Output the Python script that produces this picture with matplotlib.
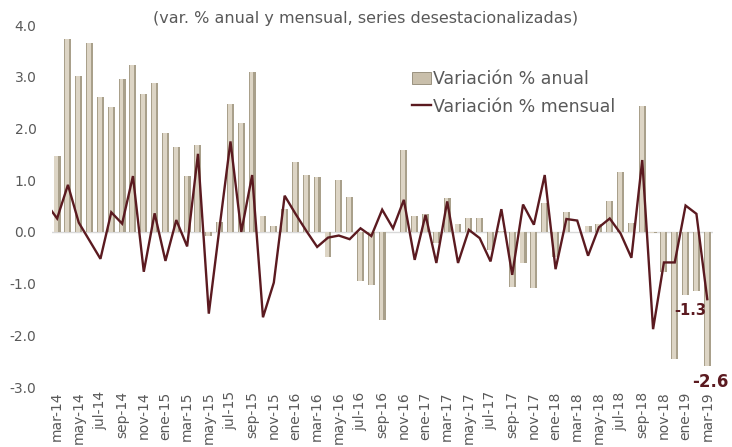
import numpy as np
import matplotlib
matplotlib.use("Agg")
import matplotlib.pyplot as plt
from matplotlib.patches import Patch
from matplotlib.lines import Line2D

# month labels, mar-14 .. mar-19
meses = ["ene", "feb", "mar", "abr", "may", "jun", "jul", "ago", "sep", "oct", "nov", "dic"]
months = []
for k in range(61):
    m = (2 + k) % 12
    y = 14 + (2 + k) // 12
    months.append(f"{meses[m]}-{y}")

# annual % change (bars)
anual = [1.46, 3.73, 3.01, 3.65, 2.60, 2.41, 2.95, 3.22, 2.66, 2.88,
         1.92, 1.64, 1.09, 1.68, -0.07, 0.20, 2.48, 2.10, 3.10, 0.30,
         0.12, 0.45, 1.35, 1.10, 1.07, -0.48, 1.00, 0.68, -0.94, -1.03,
         -1.70, 0.0, 1.59, 0.31, 0.34, -0.22, 0.65, 0.15, 0.26, 0.26,
         -0.35, 0.02, -1.06, -0.60, -1.08, 0.55, -0.48, 0.38, 0.0, 0.12,
         0.15, 0.59, 1.15, 0.17, 2.43, -0.03, -0.78, -2.45, -1.22, -1.15,
         -2.6]

# monthly % change (line); first value is feb-14, cut by the axis edge
mensual = [0.55,
           0.26, 0.91, 0.18, -0.17, -0.52, 0.38, 0.16, 1.08, -0.77, 0.36,
           -0.56, 0.23, -0.28, 1.51, -1.58, 0.10, 1.75, 0.0, 1.10, -1.65,
           -0.98, 0.70, 0.35, 0.02, -0.29, -0.11, -0.07, -0.14, 0.07, -0.08,
           0.43, 0.07, 0.62, -0.54, 0.33, -0.60, 0.59, -0.60, 0.04, -0.12,
           -0.57, 0.44, -0.83, 0.53, 0.14, 1.10, -0.72, 0.25, 0.22, -0.46,
           0.09, 0.26, -0.03, -0.50, 1.39, -1.88, -0.59, -0.59, 0.51, 0.35,
           -1.3]

gray = "#595959"
maroon = "#5b1a20"

fig = plt.figure(figsize=(7.32, 4.47), dpi=100)
ax = fig.add_axes([0.0706, 0.134, 0.903, 0.81])

x = np.arange(len(anual))
xl = np.arange(-1, len(anual))

# cylinder-ish bars: dark body + light highlight
ax.bar(x, anual, width=0.64, color="#a9a08b", zorder=2)
ax.bar(x - 0.06, anual, width=0.36, color="#ddd5c5", zorder=2)
ax.plot(xl, mensual, color=maroon, lw=1.7, zorder=3, solid_joinstyle="miter")

ax.axhline(0, color="#d9d9d9", lw=1, zorder=1)

ax.set_xlim(-0.5, len(anual) - 0.5)
ax.set_ylim(-3, 4)
ax.set_yticks(np.arange(-3, 5, 1))
ax.set_yticklabels([f"{v:.1f}" for v in np.arange(-3, 5, 1)])
ax.set_xticks(x[::2])
ax.set_xticklabels(months[::2], rotation=90)
ax.tick_params(axis="both", length=0, colors=gray, labelsize=10)
ax.tick_params(axis="y", pad=11)
ax.tick_params(axis="x", pad=3)
for s in ax.spines.values():
    s.set_visible(False)

fig.text(0.5, 0.958, "(var. % anual y mensual, series desestacionalizadas)",
         ha="center", va="center", color=gray, fontsize=11.5)

handles = [Patch(facecolor="#c9bfab", edgecolor="#8f8672", lw=0.6),
           Line2D([0], [0], color=maroon, lw=1.7)]
leg = ax.legend(handles, ["Variación % anual", "Variación % mensual"],
                loc="upper left", bbox_to_anchor=(0.535, 0.895), frameon=False,
                fontsize=12.5, handlelength=1.1, handletextpad=0.1,
                labelspacing=0.55, borderaxespad=0)
for t in leg.get_texts():
    t.set_color(gray)

ax.annotate(f"{mensual[-1]:.1f}", (x[-1], mensual[-1]), xytext=(-1, -8),
            textcoords="offset points", ha="right", va="center",
            color=maroon, fontweight="bold", fontsize=10.5)
ax.annotate(f"{anual[-1]:.1f}", (x[-1], anual[-1]), xytext=(2, -11),
            textcoords="offset points", ha="center", va="center",
            color=maroon, fontweight="bold", fontsize=12, annotation_clip=False)

fig.savefig("out.png", dpi=100)
